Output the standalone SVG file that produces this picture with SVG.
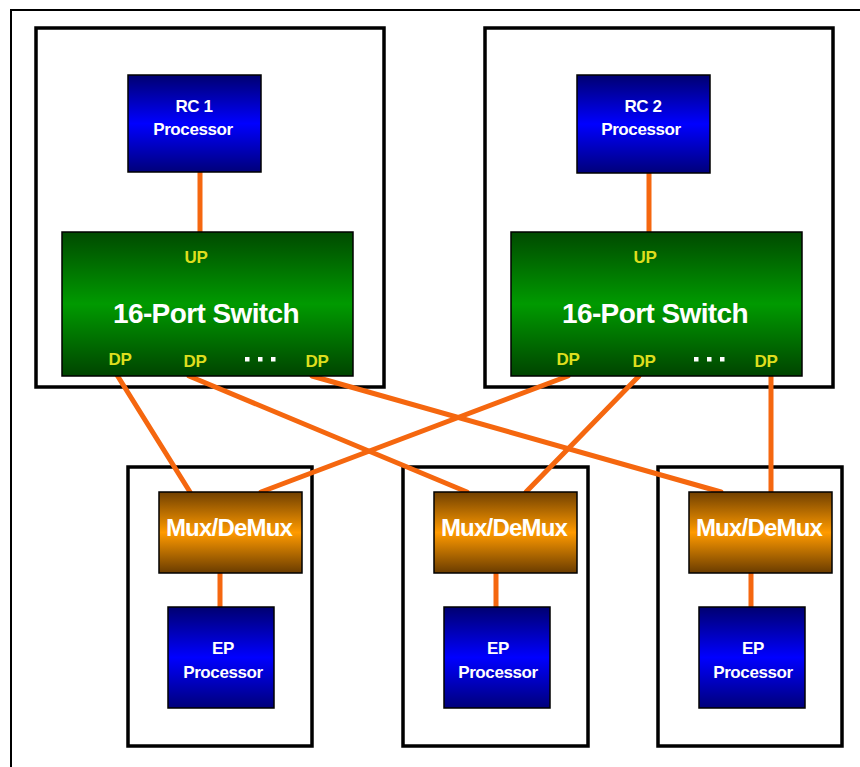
<svg xmlns="http://www.w3.org/2000/svg" width="860" height="767" viewBox="0 0 860 767">
<defs>
<linearGradient id="gBlue" x1="0" y1="0" x2="0" y2="1">
<stop offset="0" stop-color="#000070"/><stop offset="0.5" stop-color="#0000ff"/><stop offset="1" stop-color="#00007a"/>
</linearGradient>
<linearGradient id="gGreen" x1="0" y1="0" x2="0" y2="1">
<stop offset="0" stop-color="#004a00"/><stop offset="0.5" stop-color="#009a00"/><stop offset="1" stop-color="#004400"/>
</linearGradient>
<linearGradient id="gOrange" x1="0" y1="0" x2="0" y2="1">
<stop offset="0" stop-color="#714000"/><stop offset="0.5" stop-color="#ff9a00"/><stop offset="1" stop-color="#6a3c00"/>
</linearGradient>
</defs>
<style>
.frame{fill:none;stroke:#000;stroke-width:2}
.box{fill:#fff;stroke:#000;stroke-width:3.5}
.blue{fill:url(#gBlue);stroke:#000;stroke-width:1.5}
.green{fill:url(#gGreen);stroke:#000;stroke-width:1.5}
.orange{fill:url(#gOrange);stroke:#000;stroke-width:1.5}
.link{stroke:#f5670f;stroke-width:5;stroke-linecap:round;fill:none}
text{font-family:"Liberation Sans",Arial,sans-serif;font-weight:bold;text-anchor:middle}
.proc{fill:#fff;font-size:17px;letter-spacing:-0.4px}
.port{fill:#dede1e;font-size:17px;letter-spacing:-0.3px}
.sw{fill:#fff;font-size:28px;letter-spacing:-0.6px}
.mux{fill:#fff;font-size:24px;letter-spacing:-0.8px}
.dot{fill:#fff}
</style>
<rect class="frame" x="11" y="10" width="860" height="770"/>
<g id="rc1-container"><rect class="box" x="36" y="28" width="348" height="359"/></g>
<g id="rc2-container"><rect class="box" x="485" y="28" width="348" height="359"/></g>
<g id="ep1-container"><rect class="box" x="128" y="467" width="184" height="279"/></g>
<g id="ep2-container"><rect class="box" x="403" y="467" width="185" height="279"/></g>
<g id="ep3-container"><rect class="box" x="658" y="467" width="184" height="279"/></g>
<g id="connectors">
<line class="link" x1="200" y1="172" x2="200" y2="232"/>
<line class="link" x1="649" y1="173" x2="649" y2="232"/>
<line class="link" x1="117" y1="375" x2="190" y2="492"/>
<line class="link" x1="189" y1="376" x2="467" y2="492"/>
<line class="link" x1="312" y1="376" x2="721" y2="492"/>
<line class="link" x1="568" y1="376" x2="261" y2="492"/>
<line class="link" x1="639" y1="376" x2="526" y2="492"/>
<line class="link" x1="771" y1="376" x2="771" y2="492"/>
<line class="link" x1="220" y1="573" x2="220" y2="607"/>
<line class="link" x1="496" y1="573" x2="496" y2="607"/>
<line class="link" x1="751" y1="573" x2="751" y2="607"/>
</g>
<g id="rc1">
<rect class="blue" x="128" y="75" width="133" height="97"/>
<text class="proc" x="194" y="112">RC 1</text>
<text class="proc" x="193" y="135">Processor</text>
</g>
<g id="rc2">
<rect class="blue" x="577" y="75" width="133" height="98"/>
<text class="proc" x="643" y="112">RC 2</text>
<text class="proc" x="641" y="135">Processor</text>
</g>
<g id="switch1">
<rect class="green" x="62" y="232" width="291" height="144"/>
<text class="port" x="196" y="263">UP</text>
<text class="sw" x="206" y="323">16-Port Switch</text>
<text class="port" x="120" y="365">DP</text>
<text class="port" x="195" y="367">DP</text>
<rect class="dot" x="245" y="357" width="4.5" height="4.5"/>
<rect class="dot" x="258" y="357" width="4.5" height="4.5"/>
<rect class="dot" x="271" y="357" width="4.5" height="4.5"/>
<text class="port" x="317" y="367">DP</text>
</g>
<g id="switch2">
<rect class="green" x="511" y="232" width="291" height="144"/>
<text class="port" x="645" y="263">UP</text>
<text class="sw" x="655" y="323">16-Port Switch</text>
<text class="port" x="568" y="365">DP</text>
<text class="port" x="644" y="367">DP</text>
<rect class="dot" x="694" y="357" width="4.5" height="4.5"/>
<rect class="dot" x="707" y="357" width="4.5" height="4.5"/>
<rect class="dot" x="720" y="357" width="4.5" height="4.5"/>
<text class="port" x="766" y="367">DP</text>
</g>
<g id="mux1">
<rect class="orange" x="159" y="492" width="143" height="81"/>
<text class="mux" x="229" y="536">Mux/DeMux</text>
</g>
<g id="mux2">
<rect class="orange" x="434" y="492" width="143" height="81"/>
<text class="mux" x="504" y="536">Mux/DeMux</text>
</g>
<g id="mux3">
<rect class="orange" x="689" y="492" width="143" height="81"/>
<text class="mux" x="759" y="536">Mux/DeMux</text>
</g>
<g id="ep1">
<rect class="blue" x="168" y="607" width="106" height="101"/>
<text class="proc" x="223" y="654">EP</text>
<text class="proc" x="223" y="678">Processor</text>
</g>
<g id="ep2">
<rect class="blue" x="444" y="607" width="106" height="101"/>
<text class="proc" x="498" y="654">EP</text>
<text class="proc" x="498" y="678">Processor</text>
</g>
<g id="ep3">
<rect class="blue" x="699" y="607" width="106" height="101"/>
<text class="proc" x="753" y="654">EP</text>
<text class="proc" x="753" y="678">Processor</text>
</g>
</svg>
